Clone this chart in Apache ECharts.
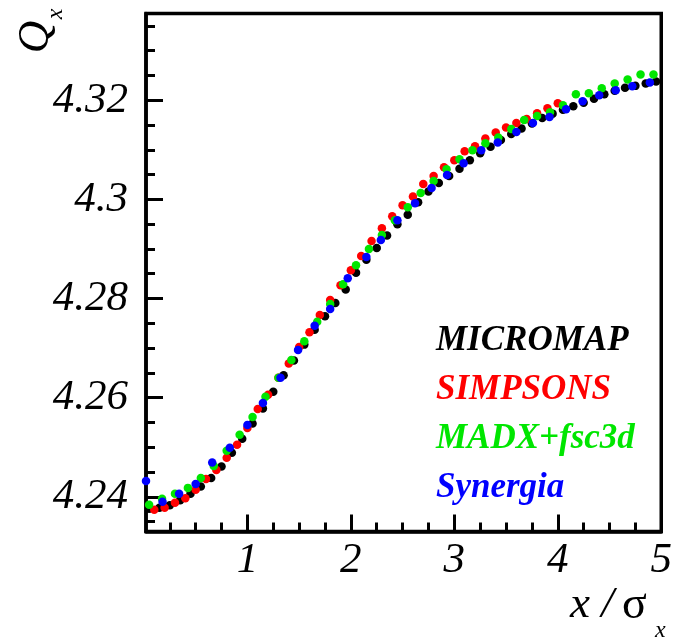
<!DOCTYPE html>
<html>
<head>
<meta charset="utf-8">
<script src="https://cdn.jsdelivr.net/npm/echarts@6/dist/echarts.min.js"></script>
<style>
html,body{margin:0;padding:0;background:#fff;}
#chart{width:675px;height:641px;}
</style>
</head>
<body>
<div id="chart"></div>
<script>
// ---- data ----
const seriesNames = ['MICROMAP', 'SIMPSONS', 'MADX+fsc3d', 'Synergia'];
const seriesColors = ['#000000', '#ff0000', '#00e600', '#0000ff'];

const micromapX = [0.05,0.15,0.25,0.35,0.45,0.55,0.65,0.75,0.85,0.95,1.05,1.15,1.25,1.35,1.45,1.55,1.65,1.75,1.85,1.95,2.05,2.15,2.25,2.35,2.45,2.55,2.65,2.75,2.85,2.95,3.05,3.15,3.25,3.35,3.45,3.55,3.65,3.75,3.85,3.95,4.05,4.15,4.25,4.35,4.45,4.55,4.65,4.75,4.85,4.95];
const micromapY = [4.2376,4.2378,4.2383,4.2393,4.2406,4.2421,4.2438,4.2461,4.2489,4.2517,4.2548,4.2578,4.2612,4.2645,4.2675,4.2707,4.2737,4.2764,4.2791,4.2818,4.2852,4.2878,4.2902,4.2927,4.2950,4.2969,4.2994,4.3016,4.3033,4.3047,4.3062,4.3079,4.3093,4.3106,4.3120,4.3132,4.3143,4.3153,4.3164,4.3173,4.3181,4.3188,4.3195,4.3203,4.3212,4.3219,4.3225,4.3229,4.3234,4.3238];

const simpsonsX = [0.1,0.2,0.3,0.4,0.5,0.6,0.7,0.8,0.9,1.0,1.1,1.2,1.3,1.4,1.5,1.6,1.7,1.8,1.9,2.0,2.1,2.2,2.3,2.4,2.5,2.6,2.7,2.8,2.9,3.0,3.1,3.2,3.3,3.4,3.5,3.6,3.7,3.8,3.9,4.0];
const simpsonsY = [4.2374,4.2378,4.2388,4.2397,4.2414,4.2436,4.2454,4.2479,4.2505,4.2539,4.2577,4.2606,4.2640,4.2669,4.2702,4.2732,4.2767,4.2797,4.2827,4.2857,4.2886,4.2916,4.2942,4.2966,4.2988,4.3006,4.3031,4.3047,4.3065,4.3079,4.3097,4.3107,4.3123,4.3135,4.3145,4.3154,4.3162,4.3174,4.3184,4.3194];

const madxX = [0.05,0.175,0.3,0.425,0.55,0.675,0.8,0.925,1.05,1.175,1.3,1.425,1.55,1.675,1.8,1.925,2.05,2.175,2.3,2.425,2.55,2.675,2.8,2.925,3.05,3.175,3.3,3.425,3.55,3.675,3.8,3.925,4.05,4.175,4.3,4.425,4.55,4.675,4.8,4.925];
const madxY = [4.2384,4.2396,4.2406,4.2418,4.2438,4.2462,4.2493,4.2525,4.2561,4.2602,4.2640,4.2676,4.2714,4.2753,4.2789,4.2829,4.2867,4.2900,4.2928,4.2958,4.2984,4.3013,4.3037,4.3061,4.3081,4.3099,4.3113,4.3125,4.3142,4.3160,4.3168,4.3176,4.3190,4.3212,4.3214,4.3224,4.3234,4.3242,4.3252,4.3252];

const synergiaX = [0.02,0.18,0.34,0.50,0.66,0.83,1.00,1.15,1.32,1.49,1.65,1.80,1.97,2.15,2.29,2.45,2.62,2.78,2.93,3.09,3.26,3.42,3.60,3.76,3.92,4.08,4.24,4.40,4.56,4.72,4.89];
const synergiaY = [4.2432,4.2390,4.2406,4.2426,4.2469,4.2499,4.2545,4.2589,4.2640,4.2696,4.2745,4.2779,4.2841,4.2884,4.2918,4.2958,4.2992,4.3023,4.3049,4.3073,4.3099,4.3115,4.3136,4.3154,4.3166,4.3182,4.3198,4.3210,4.3220,4.3228,4.3236];

const xMajorTicks = [1, 2, 3, 4, 5];
const xMinorTicks = [0.25,0.5,0.75,1.25,1.5,1.75,2.25,2.5,2.75,3.25,3.5,3.75,4.25,4.5,4.75];
const yMajorTicks = [4.24, 4.26, 4.28, 4.3, 4.32];
const yMinorTicks = [4.235,4.245,4.25,4.255,4.265,4.27,4.275,4.285,4.29,4.295,4.305,4.31,4.315,4.325,4.33,4.335];

const xs = [micromapX, simpsonsX, madxX, synergiaX];
const ys = [micromapY, simpsonsY, madxY, synergiaY];

// ---- chart ----
const serif = '"Liberation Serif", "DejaVu Serif", serif';
const chart = echarts.init(document.getElementById('chart'), null, {renderer: 'canvas'});

const XMIN = 0.02, XMAX = 5.0, YMIN = 4.233, YMAX = 4.3375;
const lineStyle = {color: '#000', width: 3.5};

const option = {
  animation: false,
  backgroundColor: '#fff',
  grid: {left: 146, right: 10.5, top: 13.5, bottom: 109.5, show: true, borderColor: '#000', borderWidth: 3.5, backgroundColor: 'transparent'},
  xAxis: [
    {type: 'value', min: XMIN, max: XMAX, position: 'bottom',
     axisLine: {show: true, onZero: false, lineStyle: lineStyle},
     axisTick: {show: true, inside: true, length: 17, customValues: xMajorTicks, lineStyle: {color: '#000', width: 3}},
     axisLabel: {show: true, customValues: xMajorTicks, margin: 8, fontFamily: serif, fontStyle: 'italic', fontSize: 43, color: '#000'},
     splitLine: {show: false}},
    {type: 'value', min: XMIN, max: XMAX, position: 'bottom',
     axisLine: {show: false, onZero: false},
     axisTick: {show: true, inside: true, length: 9, customValues: xMinorTicks, lineStyle: {color: '#000', width: 3}},
     axisLabel: {show: false},
     splitLine: {show: false}}
  ],
  yAxis: [
    {type: 'value', min: YMIN, max: YMAX, position: 'left',
     axisLine: {show: true, onZero: false, lineStyle: lineStyle},
     axisTick: {show: true, inside: true, length: 17, customValues: yMajorTicks, lineStyle: {color: '#000', width: 3}},
     axisLabel: {show: true, customValues: yMajorTicks, margin: 18, fontFamily: serif, fontStyle: 'italic', fontSize: 43, color: '#000'},
     splitLine: {show: false}},
    {type: 'value', min: YMIN, max: YMAX, position: 'left',
     axisLine: {show: false, onZero: false},
     axisTick: {show: true, inside: true, length: 9, customValues: yMinorTicks, lineStyle: {color: '#000', width: 3}},
     axisLabel: {show: false},
     splitLine: {show: false}}
  ],
  legend: {
    orient: 'vertical', left: 426, top: 318, itemGap: 14,
    itemWidth: 0, itemHeight: 0, icon: 'none', selectedMode: false,
    textStyle: {fontFamily: serif, fontStyle: 'italic', fontWeight: 'bold', fontSize: 35, lineHeight: 35},
    data: seriesNames.map((n, i) => ({name: n, icon: 'none', textStyle: {color: seriesColors[i]}}))
  },
  graphic: [
    {type: 'text', x: 36, y: 37, rotation: Math.PI / 2,
     style: {text: 'Q', font: 'italic 45px ' + serif, fill: '#000', align: 'center', verticalAlign: 'middle'}},
    {type: 'text', x: 56, y: 14, rotation: Math.PI / 2,
     style: {text: 'x', font: 'italic 24px ' + serif, fill: '#000', align: 'center', verticalAlign: 'middle'}},
    {type: 'text', x: 570, y: 628,
     style: {text: 'x /', font: 'italic 45px ' + serif, fill: '#000', align: 'left', verticalAlign: 'bottom'}},
    {type: 'text', x: 622, y: 629,
     style: {text: 'σ', font: '46px ' + serif, fill: '#000', align: 'left', verticalAlign: 'bottom'}},
    {type: 'text', x: 655, y: 643,
     style: {text: 'x', font: 'italic 24px ' + serif, fill: '#000', align: 'left', verticalAlign: 'bottom'}}
  ],
  series: seriesNames.map((n, i) => ({
    name: n, type: 'scatter', xAxisIndex: 0, yAxisIndex: 0,
    symbol: 'circle', symbolSize: 8.5, clip: false,
    itemStyle: {color: seriesColors[i], opacity: 1},
    emphasis: {disabled: true},
    data: xs[i].map((x, j) => [x, ys[i][j]])
  }))
};
chart.setOption(option);
</script>
</body>
</html>
